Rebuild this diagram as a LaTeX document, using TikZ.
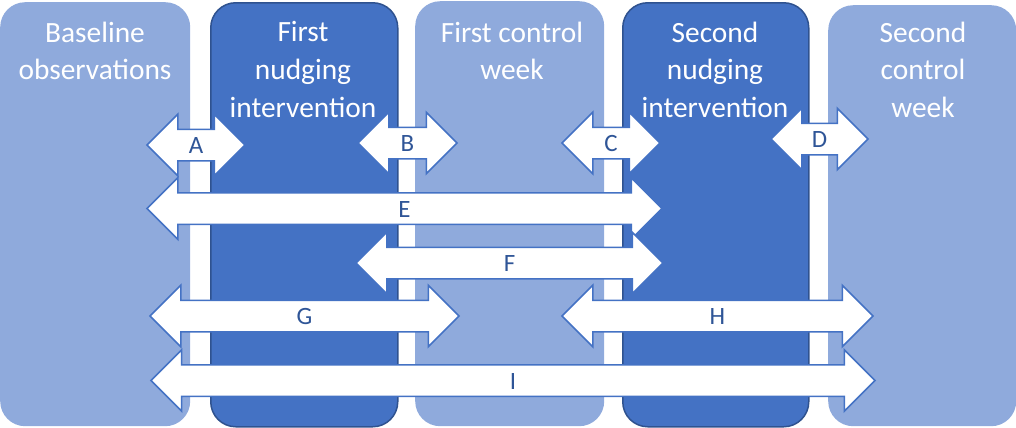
\documentclass[tikz,border=0pt]{standalone}
\usepackage{fontspec}
\setmainfont{Carlito}
\usetikzlibrary{positioning}
\usetikzlibrary{shapes.arrows}
\definecolor{weeklight}{HTML}{8FAADC}
\definecolor{weekdark}{HTML}{4472C4}
\definecolor{weekedge}{HTML}{2F528F}
\definecolor{arrowedge}{HTML}{4472C4}
\definecolor{labelblue}{HTML}{2F5597}

\begin{document}
\begin{tikzpicture}[x=1bp,y=-1bp]
    % Stili per colonne e frecce
    \tikzset{
        week box/.style={
            rounded corners=25bp,
            anchor=north west,
            inner sep=0pt
        },
        light week/.style={week box, fill=weeklight},
        dark week/.style={week box, fill=weekdark, draw=weekedge, line width=1.5bp},
        week text/.style={
            text=white,
            align=center,
            anchor=north,
            inner sep=0pt,
            font=\fontsize{29.5}{38}\selectfont
        },
        span arrow/.style={
            double arrow,
            draw=arrowedge,
            fill=white,
            line width=1.5bp,
            double arrow head extend=15bp,
            minimum width=60bp,
            text height=17bp,
            text depth=0bp,
            inner xsep=0pt,
            inner ysep=6.5bp,
            text=labelblue,
            font=\fontsize{25}{28}\selectfont
        }
    }
    \useasboundingbox (0,0) rectangle (1016,427);

    % Colonne (settimane)
    \node[light week, minimum width=190bp, minimum height=424bp] (base) at (0,2) {};
    \node[dark week, minimum width=187bp, minimum height=424bp] (nudge1) at (210,2) {};
    \node[light week, minimum width=189bp, minimum height=425bp] (ctrl1) at (415,1) {};
    \node[dark week, minimum width=186bp, minimum height=424bp] (nudge2) at (622,2) {};
    \node[light week, minimum width=188bp, minimum height=421bp] (ctrl2) at (828,5) {};

    % Titoli
    \node[week text] (base text) at (95,21.5) {Baseline\\observations};
    \node[week text] (nudge1 text) at (303,21.5) {First\\nudging\\intervention};
    \node[week text] (ctrl1 text) at (512,21.5) {First control\\week};
    \node[week text] (nudge2 text) at (715,21.5) {Second\\nudging\\intervention};
    \node[week text] (ctrl2 text) at (923,21.5) {Second\\control\\week};

    % Confronti
    \node[span arrow, minimum height=98bp] (A) at (196,145) {A};
    \node[span arrow, minimum height=99bp] (B) at (407.5,143) {B};
    \node[span arrow, minimum height=98bp] (C) at (611,143) {C};
    \node[span arrow, minimum height=97bp] (D) at (819.5,139) {D};
    \node[span arrow, minimum height=515bp] (E) at (404.5,208.5) {E};
    \node[span arrow, minimum height=307bp] (F) at (509.5,263) {F};
    \node[span arrow, minimum height=309bp] (G) at (304.5,316) {G};
    \node[span arrow, minimum height=311bp] (H) at (717.5,316) {H};
    \node[span arrow, minimum height=724bp] (I) at (513,380.5) {I};
\end{tikzpicture}
\end{document}
